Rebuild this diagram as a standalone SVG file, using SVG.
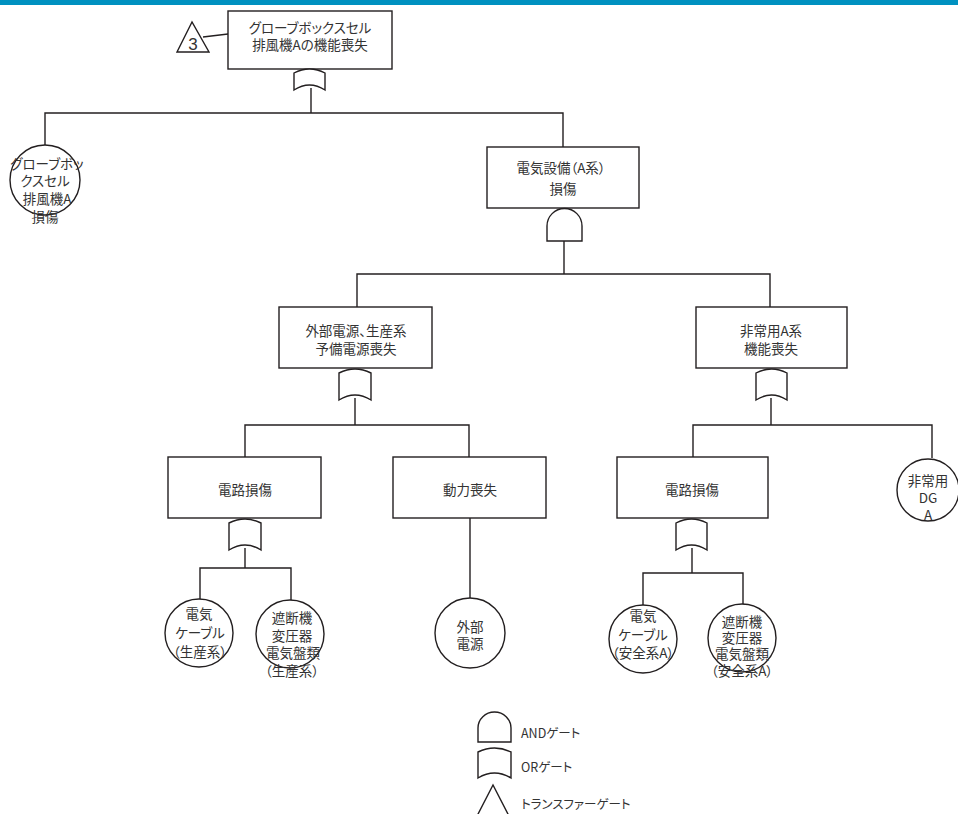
<svg xmlns="http://www.w3.org/2000/svg" width="958" height="814" viewBox="0 0 958 814">
<style>
.box{fill:#fff;stroke:#231f20;stroke-width:1.4}
.gate{fill:#fff;stroke:#231f20;stroke-width:1.4}
.ln{fill:none;stroke:#231f20;stroke-width:1.4}
text{font-family:"Noto Sans CJK JP","Noto Sans",sans-serif;font-size:13.5px;font-feature-settings:"palt";fill:#333;text-anchor:middle;dominant-baseline:central}
.lg{text-anchor:start;font-size:12.5px}
</style>
<rect x="0" y="0" width="958" height="5" fill="#0091c0"/>
<g id="connectors">
<polyline class="ln" points="203,37 228,34"/>
<polyline class="ln" points="311,88 311,113"/>
<polyline class="ln" points="45,145 45,113 563,113 563,147"/>
<polyline class="ln" points="564,241 564,274"/>
<polyline class="ln" points="357,307 357,274 770,274 770,307"/>
<polyline class="ln" points="355,398 355,425"/>
<polyline class="ln" points="245,457 245,425 469,425 469,457"/>
<polyline class="ln" points="771,398 771,425"/>
<polyline class="ln" points="693,457 693,425 932,425 932,458"/>
<polyline class="ln" points="245,548 245,568"/>
<polyline class="ln" points="200,599 200,568 291,568 291,600"/>
<polyline class="ln" points="470,518 470,598"/>
<polyline class="ln" points="692,548 692,573"/>
<polyline class="ln" points="643,605 643,573 743,573 743,605"/>
</g>
<g id="transfer3">
<polygon class="gate" points="192,22 177,52 209,52"/>
<text x="193" y="44" style="font-size:17px;font-family:'Liberation Sans',sans-serif">3</text>
</g>
<g id="top">
<rect class="box" x="228" y="11" width="164" height="58"/>
<text x="310" y="27">グローブボックスセル</text>
<text x="310" y="44">排風機Aの機能喪失</text>
<path class="gate" d="M294,90 L294,73 Q309.5,65 325,73 L325,90 Q309.5,80 294,90 Z"/>
</g>
<g id="gb-fan">
<circle class="box" cx="45" cy="180" r="35"/>
<text x="47" y="163">グローブボッ</text>
<text x="45" y="180">クスセル</text>
<text x="47" y="198">排風機A</text>
<text x="45" y="216">損傷</text>
</g>
<g id="elec">
<rect class="box" x="487" y="147" width="152" height="61"/>
<text x="561" y="167">電気設備（A系）</text>
<text x="563" y="188">損傷</text>
<path class="gate" d="M547,241 L547,226 A17.5,17.5 0 0 1 582,226 L582,241 Z"/>
</g>
<g id="ext-loss">
<rect class="box" x="279" y="307" width="153" height="61"/>
<text x="356" y="330">外部電源、生産系</text>
<text x="356" y="348">予備電源喪失</text>
<path class="gate" d="M339,400 L339,373 Q355,365 371,373 L371,400 Q355,390 339,400 Z"/>
</g>
<g id="emg-loss">
<rect class="box" x="696" y="307" width="151" height="61"/>
<text x="771" y="330">非常用A系</text>
<text x="771" y="348">機能喪失</text>
<path class="gate" d="M756,400 L756,373 Q771.5,365 787,373 L787,400 Q771.5,390 756,400 Z"/>
</g>
<g id="circuit1">
<rect class="box" x="168" y="457" width="153" height="61"/>
<text x="245" y="489">電路損傷</text>
<path class="gate" d="M229,550 L229,523 Q245,515 261,523 L261,550 Q245,540 229,550 Z"/>
</g>
<g id="power">
<rect class="box" x="393" y="457" width="153" height="61"/>
<text x="470" y="489">動力喪失</text>
</g>
<g id="circuit2">
<rect class="box" x="617" y="457" width="151" height="61"/>
<text x="692" y="489">電路損傷</text>
<path class="gate" d="M676,550 L676,523 Q691.5,515 707,523 L707,550 Q691.5,540 676,550 Z"/>
</g>
<g id="dg">
<circle class="box" cx="928" cy="490" r="31"/>
<text x="928" y="480">非常用</text>
<text x="928" y="497">DG</text>
<text x="928" y="514">A</text>
</g>
<g id="cable1">
<circle class="box" cx="199" cy="633" r="34"/>
<text x="199" y="613">電気</text>
<text x="200" y="632">ケーブル</text>
<text x="200" y="651">（生産系）</text>
</g>
<g id="breaker1">
<circle class="box" cx="290" cy="634" r="34"/>
<text x="292" y="617">遮断機</text>
<text x="292" y="635">変圧器</text>
<text x="293" y="652">電気盤類</text>
<text x="292" y="670">（生産系）</text>
</g>
<g id="extpower">
<circle class="box" cx="470" cy="633" r="35"/>
<text x="470" y="626">外部</text>
<text x="470" y="643">電源</text>
</g>
<g id="cable2">
<circle class="box" cx="643" cy="639" r="34"/>
<text x="643" y="615">電気</text>
<text x="643" y="634">ケーブル</text>
<text x="643" y="652">（安全系A）</text>
</g>
<g id="breaker2">
<circle class="box" cx="742" cy="638" r="34"/>
<text x="742" y="621">遮断機</text>
<text x="742" y="637">変圧器</text>
<text x="742" y="653">電気盤類</text>
<text x="742" y="670">（安全系A）</text>
</g>
<g id="legend">
<path class="gate" d="M478,742 L478,728 A16.5,16 0 0 1 511,728 L511,742 Z"/>
<text class="lg" x="521" y="732">ANDゲート</text>
<path class="gate" d="M478,778 L478,752 Q494.5,744 511,752 L511,778 Q494.5,768 478,778 Z"/>
<text class="lg" x="521" y="766">ORゲート</text>
<polyline class="ln" points="476,818 493,785 510,818"/>
<text class="lg" x="521" y="803">トランスファーゲート</text>
</g>
</svg>
